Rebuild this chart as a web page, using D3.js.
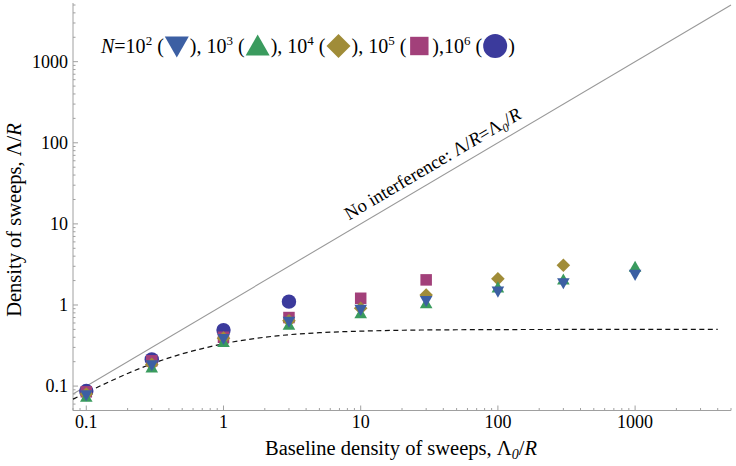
<!DOCTYPE html>
<html><head><meta charset="utf-8">
<script src="https://cdn.jsdelivr.net/npm/d3@7"></script>
<style>body{margin:0;background:#fff}svg{display:block}</style>
</head><body>
<svg id="c" width="736" height="466"></svg>
<script>
// ---- data ----
const xValues = [0.1, 0.3, 1, 3, 10, 30, 100, 300, 1000];
const seriesN2 = [0.077, 0.18, 0.38, 0.62, 0.87, 1.12, 1.46, 1.85, 2.35];   // N=10^2
const seriesN3 = [0.074, 0.17, 0.35, 0.57, 0.79, 1.05, 1.65, 2.07, 2.97];   // N=10^3
const seriesN4 = [0.08, 0.185, 0.39, 0.64, 0.91, 1.33, 2.10, 3.09];         // N=10^4
const seriesN5 = [0.085, 0.205, 0.40, 0.70, 1.21, 2.04];                    // N=10^5
const seriesN6 = [0.087, 0.213, 0.49, 1.10];                                // N=10^6
const theoryX = [0.08, 0.1, 0.15, 0.2, 0.3, 0.5, 0.7, 1, 1.5, 2, 3, 5, 10, 20, 50, 100, 300, 1000, 4000];
const theoryY = [0.069, 0.083, 0.115, 0.143, 0.188, 0.25, 0.29, 0.333, 0.375, 0.40, 0.43, 0.455, 0.476, 0.488, 0.495, 0.4975, 0.499, 0.4995, 0.4999];
const noInterfX = [0.08, 5000];
const xTickValues = [0.1, 1, 10, 100, 1000];
const xTickLabels = ["0.1", "1", "10", "100", "1000"];
const yTickValues = [0.1, 1, 10, 100, 1000];
const yTickLabels = ["0.1", "1", "10", "100", "1000"];
const seriesExps = ["2", "3", "4", "5", "6"];

// ---- setup ----
const FONT = "Liberation Serif";
const svg = d3.select("#c");
const x = d3.scaleLog().domain([0.08, 5000]).range([73, 731]);
const y = d3.scaleLog().domain([0.05, 5000]).range([410.5, 5]);
const AX = "#a0a0a0";

function minorTicks(dom){
  const out=[];
  for(let e=-3;e<=4;e++){for(let m=1;m<=9;m++){const v=m*Math.pow(10,e); if(v>=dom[0]*0.999 && v<=dom[1]*1.001) out.push(v);}}
  return out;
}
const gx = svg.append("g");
gx.append("line").attr("x1",x.range()[0]).attr("x2",x.range()[1]).attr("y1",y.range()[0]).attr("y2",y.range()[0]).attr("stroke",AX).attr("stroke-width",1);
minorTicks(x.domain()).forEach(v=>{
  const major = xTickValues.some(t=>Math.abs(t-v)/t<1e-6);
  gx.append("line").attr("x1",x(v)).attr("x2",x(v)).attr("y1",y.range()[0]).attr("y2",y.range()[0]-(major?5:2.5)).attr("stroke",AX);
});
xTickValues.forEach((v,i)=>{
  gx.append("text").attr("font-family",FONT).attr("x",x(v)).attr("y",428).attr("text-anchor","middle").attr("font-size",18).text(xTickLabels[i]);
});
const gy = svg.append("g");
gy.append("line").attr("x1",x.range()[0]).attr("x2",x.range()[0]).attr("y1",y.range()[0]).attr("y2",y.range()[1]-2).attr("stroke",AX);
minorTicks(y.domain()).forEach(v=>{
  const major = yTickValues.some(t=>Math.abs(t-v)/t<1e-6);
  gy.append("line").attr("x1",x.range()[0]).attr("x2",x.range()[0]+(major?5:2.5)).attr("y1",y(v)).attr("y2",y(v)).attr("stroke",AX);
});
yTickValues.forEach((v,i)=>{
  gy.append("text").attr("font-family",FONT).attr("x",68).attr("y",y(v)+6).attr("text-anchor","end").attr("font-size",18).text(yTickLabels[i]);
});

// axis titles
const xt = svg.append("text").attr("font-family",FONT).attr("x",401).attr("y",455).attr("text-anchor","middle").attr("font-size",20.5);
xt.append("tspan").text("Baseline density of sweeps, Λ");
xt.append("tspan").attr("font-size",14).attr("font-style","italic").attr("dy",4).text("0");
xt.append("tspan").attr("dy",-4).text("/");
xt.append("tspan").attr("font-style","italic").text("R");
const yt = svg.append("text").attr("font-family",FONT).attr("transform","translate(21,220) rotate(-90)").attr("text-anchor","middle").attr("font-size",20.5);
yt.append("tspan").text("Density of sweeps, Λ/");
yt.append("tspan").attr("font-style","italic").text("R");

// no interference line
svg.append("line").attr("x1",x(noInterfX[0])).attr("y1",y(noInterfX[0])).attr("x2",x(noInterfX[1])).attr("y2",y(noInterfX[1]))
  .attr("stroke","#999").attr("stroke-width",1.1);
const ang = Math.atan2(y(1000)-y(1), x(1000)-x(1))*180/Math.PI;
const lblV = 38;
const lt = svg.append("text").attr("font-family",FONT).attr("transform",`translate(${x(lblV)},${y(lblV)}) rotate(${ang}) translate(0,-9)`)
  .attr("text-anchor","middle").attr("font-size",18.5);
lt.append("tspan").text("No interference: Λ/");
lt.append("tspan").attr("font-style","italic").text("R");
lt.append("tspan").text("=Λ");
lt.append("tspan").attr("font-size",12).attr("font-style","italic").attr("dy",4).text("0");
lt.append("tspan").attr("dy",-4).text("/");
lt.append("tspan").attr("font-style","italic").text("R");

// dashed theory
svg.append("path").datum(theoryX.map((v,i)=>[v,theoryY[i]]))
  .attr("d",d3.line().x(d=>x(d[0])).y(d=>y(d[1])).curve(d3.curveMonotoneX))
  .attr("fill","none").attr("stroke","#111").attr("stroke-width",1.2).attr("stroke-dasharray","5,3.5");

// markers
const colors = ["#3c5fa3","#3a9b5e","#a08c38","#a2407a","#3b3a9c"];
function markerPath(kind, s){
  switch(kind){
    case 0: return `M${-s},${-s*0.8}L${s},${-s*0.8}L0,${s*0.95}Z`;
    case 1: return `M${-s},${s*0.8}L${s},${s*0.8}L0,${-s*0.95}Z`;
    case 2: return `M0,${-s}L${s},0L0,${s}L${-s},0Z`;
    case 3: return `M${-s*0.8},${-s*0.8}L${s*0.8},${-s*0.8}L${s*0.8},${s*0.8}L${-s*0.8},${s*0.8}Z`;
    default: return null;
  }
}
function drawMarker(g, kind, cx, cy, s){
  if(kind===4){ g.append("circle").attr("cx",cx).attr("cy",cy).attr("r",s).attr("fill",colors[4]); }
  else g.append("path").attr("d",markerPath(kind,s)).attr("transform",`translate(${cx},${cy})`).attr("fill",colors[kind]);
}
const allSeries = [seriesN2, seriesN3, seriesN4, seriesN5, seriesN6];
const sizes = [6.3, 6.3, 6.8, 7.2, 7.2];
const gm = svg.append("g");
for(let k=4;k>=0;k--){
  allSeries[k].forEach((v,i)=> drawMarker(gm, k, x(xValues[i]), y(v), sizes[k]));
}

// legend (flowed)
const gl = svg.append("g");
let cx = 101; const base = 53;
function addText(t, opts={}){
  const el = gl.append("text").attr("font-family",FONT).attr("x",cx).attr("y",base+(opts.dy||0)).attr("font-size",opts.size||20)
    .attr("font-style",opts.italic?"italic":"normal").text(t);
  cx += el.node().getComputedTextLength();
}
function addMarker(k){
  const w = 24; const s = k===3?11.5:12;
  drawMarker(gl, k, cx + w/2 + 1, base-7, s);
  cx += w + 2;
}
addText("N",{italic:true});
seriesExps.forEach((e,i)=>{
  addText(i===0?"=10":(i===4?",10":",\u00A010"));
  addText(e,{size:13,dy:-8});
  addText("\u00A0(");
  addMarker(i);
  addText(")");
});
</script>
</body></html>
